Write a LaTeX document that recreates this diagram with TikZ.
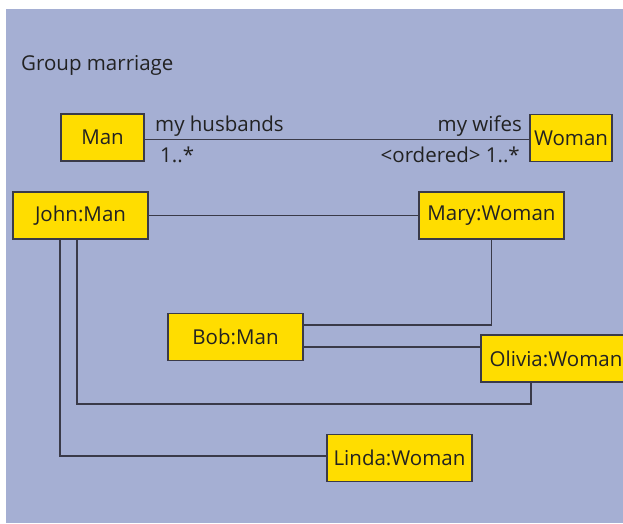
\documentclass[tikz,border=0pt]{standalone}
\usepackage{fontspec}
\setmainfont{Open Sans}
\usepackage{xcolor}
\usepackage{tikz}
\usetikzlibrary{positioning}
\definecolor{bgblue}{HTML}{A5AFD3}
\definecolor{objyellow}{HTML}{FFDD00}
\definecolor{linegrey}{HTML}{3A3A48}
\definecolor{inkgrey}{HTML}{222222}
\tikzstyle{obj} = [draw=linegrey, fill=objyellow, line width=1.3pt, minimum height=47pt, inner sep=0pt, text=inkgrey, font=\fontsize{20.5}{24}\selectfont]
\tikzstyle{link} = [draw=linegrey, line width=1.3pt]

\begin{document}
\begin{tikzpicture}[x=1pt, y=-1pt,
        % Define a style for the role and title texts
        lbl/.style={inner sep=0pt, text=inkgrey, font=\fontsize{20.5}{24}\selectfont}
    ]
        \useasboundingbox (0,0) rectangle (623,523);
        \fill[bgblue] (6,9) rectangle (623,523);

        % --- Title ---
        \node (title) [lbl, anchor=base west] at (21,70) {Group marriage};

        % --- Class boxes ---
        \node (man)   [obj, minimum width=83pt] at (102.5,137.5) {Man};
        \node (woman) [obj, minimum width=82pt] at (571,138) {Woman};

        % --- Object boxes at fixed positions ---
        \node (john)   [obj, minimum width=135pt] at (80.5,215.5) {John:Man};
        \node (mary)   [obj, minimum width=145pt] at (491.5,215.5) {Mary:Woman};
        \node (bob)    [obj, minimum width=135pt] at (235.5,337) {Bob:Man};
        \node (olivia) [obj, minimum width=150pt] at (556,358.5) {Olivia:Woman};
        \node (linda)  [obj, minimum width=145pt] at (399.5,458) {Linda:Woman};

        % --- Association with its role names ---
        \draw[link] ([yshift=-2pt]man.east) -- ([yshift=-2pt]man.east -| woman.west);
        \node (husbands) [lbl, anchor=base west] at (155,131) {my husbands};
        \node (hmult)    [lbl, anchor=base west] at (160,162) {1..*};
        \node (wifes)    [lbl, anchor=base east] at (522,131) {my wifes};
        \node (wmult)    [lbl, anchor=base east] at (520,162) {<ordered> 1..*};

        % --- Links between the objects ---
        \coordinate (jo) at (77,404);
        \draw[link] (john.east) -- (mary.west);
        \draw[link] (mary.south) |- ([yshift=12pt]bob.east);
        \draw[link] ([yshift=-10pt]bob.east) -- ([yshift=-10pt]bob.east -| olivia.west);
        \draw[link] ([xshift=-3.5pt]john.south) |- (jo) -| ([xshift=-25pt]olivia.south);
        \draw[link] ([xshift=-20.5pt]john.south) |- ([yshift=2pt]linda.west);

    \end{tikzpicture}
\end{document}
